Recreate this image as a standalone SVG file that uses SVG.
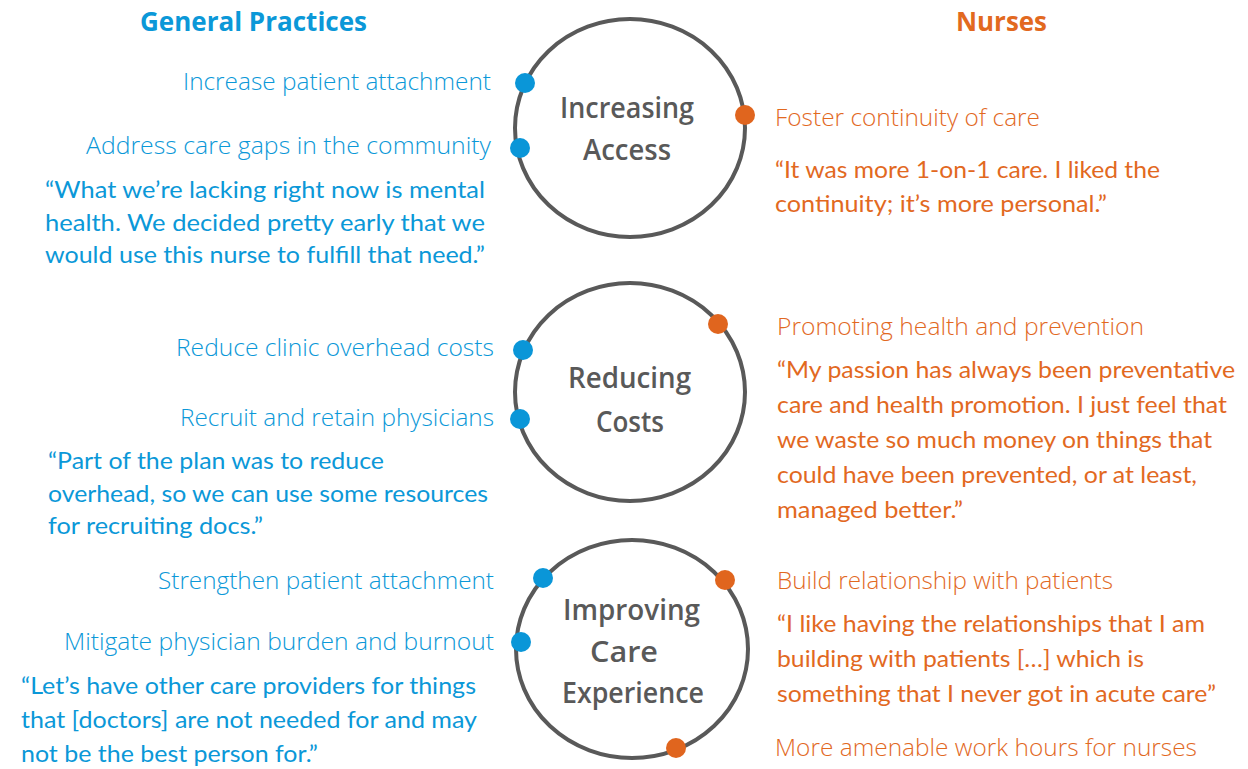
<svg xmlns="http://www.w3.org/2000/svg" width="1248" height="769" viewBox="0 0 1248 769">
  <style>
    .ring { fill: none; stroke: #595959; stroke-width: 4; }
    .dot-b { fill: #0A96D8; }
    .dot-o { fill: #E0651E; }
    .title { font-family: "Open Sans", "Noto Sans", "Liberation Sans", sans-serif; font-weight: 600; font-size: 29px; fill: #595959; text-anchor: middle; }
    .head { font-family: "Open Sans", "Noto Sans", "Liberation Sans", sans-serif; font-weight: 700; font-size: 27px; }
    .lbl { font-family: "Open Sans", "Noto Sans", "Liberation Sans", sans-serif; font-weight: 300; font-size: 24.5px; }
    .quote { font-family: Lato, "Noto Sans", "Liberation Sans", sans-serif; font-weight: 400; font-size: 24px; }
    .blue { fill: #0B98D8; }
    .orange { fill: #E2691F; }
    .end { text-anchor: end; }
  </style>

  <rect width="1248" height="769" fill="#ffffff"/>

  <!-- column headings -->
  <g id="heading-practices">
    <text class="head blue" x="140" y="31" textLength="227" lengthAdjust="spacingAndGlyphs">General Practices</text>
  </g>
  <g id="heading-nurses">
    <text class="head orange" x="956" y="31" textLength="91" lengthAdjust="spacingAndGlyphs">Nurses</text>
  </g>

  <!-- theme circles with their attachment dots -->
  <g id="connectors">
    <g id="theme-access">
      <ellipse class="ring" cx="630" cy="128" rx="115" ry="109"/>
      <text class="title" x="627" y="118" textLength="134" lengthAdjust="spacingAndGlyphs">Increasing</text>
      <text class="title" x="627" y="160" textLength="88" lengthAdjust="spacingAndGlyphs">Access</text>
      <circle class="dot-b" cx="525" cy="83" r="10"/>
      <circle class="dot-b" cx="520" cy="148" r="10"/>
      <circle class="dot-o" cx="745" cy="115" r="10"/>
    </g>
    <g id="theme-costs">
      <ellipse class="ring" cx="630" cy="392" rx="115" ry="109"/>
      <text class="title" x="629.5" y="388" textLength="123" lengthAdjust="spacingAndGlyphs">Reducing</text>
      <text class="title" x="630" y="432" textLength="68" lengthAdjust="spacingAndGlyphs">Costs</text>
      <circle class="dot-o" cx="718" cy="324" r="10"/>
      <circle class="dot-b" cx="523" cy="350" r="10"/>
      <circle class="dot-b" cx="520" cy="419" r="10"/>
    </g>
    <g id="theme-experience">
      <ellipse class="ring" cx="632" cy="649" rx="116" ry="109"/>
      <text class="title" x="631.5" y="620" textLength="137" lengthAdjust="spacingAndGlyphs">Improving</text>
      <text class="title" x="624" y="662" textLength="68" lengthAdjust="spacingAndGlyphs">Care</text>
      <text class="title" x="633" y="703" textLength="142" lengthAdjust="spacingAndGlyphs">Experience</text>
      <circle class="dot-b" cx="543" cy="578" r="10"/>
      <circle class="dot-o" cx="725" cy="580" r="10"/>
      <circle class="dot-b" cx="521" cy="642" r="10"/>
      <circle class="dot-o" cx="676" cy="748" r="10"/>
    </g>
  </g>

  <!-- general practice side -->
  <g id="gp-access">
    <text class="lbl blue end" x="491" y="90" textLength="308" lengthAdjust="spacingAndGlyphs">Increase patient attachment</text>
    <text class="lbl blue end" x="491" y="154" textLength="405" lengthAdjust="spacingAndGlyphs">Address care gaps in the community</text>
    <text class="quote blue" x="45" y="198" textLength="440" lengthAdjust="spacingAndGlyphs">“What we’re lacking right now is mental</text>
    <text class="quote blue" x="45" y="230.5" textLength="440" lengthAdjust="spacingAndGlyphs">health. We decided pretty early that we</text>
    <text class="quote blue" x="45" y="263" textLength="440" lengthAdjust="spacingAndGlyphs">would use this nurse to fulfill that need.”</text>
  </g>
  <g id="gp-costs">
    <text class="lbl blue end" x="494" y="356" textLength="318" lengthAdjust="spacingAndGlyphs">Reduce clinic overhead costs</text>
    <text class="lbl blue end" x="494" y="426" textLength="314" lengthAdjust="spacingAndGlyphs">Recruit and retain physicians</text>
    <text class="quote blue" x="48" y="469" textLength="336" lengthAdjust="spacingAndGlyphs">“Part of the plan was to reduce</text>
    <text class="quote blue" x="48" y="502" textLength="440" lengthAdjust="spacingAndGlyphs">overhead, so we can use some resources</text>
    <text class="quote blue" x="48" y="534" textLength="215" lengthAdjust="spacingAndGlyphs">for recruiting docs.”</text>
  </g>
  <g id="gp-experience">
    <text class="lbl blue end" x="494" y="589" textLength="336" lengthAdjust="spacingAndGlyphs">Strengthen patient attachment</text>
    <text class="lbl blue end" x="494" y="650" textLength="430" lengthAdjust="spacingAndGlyphs">Mitigate physician burden and burnout</text>
    <text class="quote blue" x="21" y="694" textLength="455" lengthAdjust="spacingAndGlyphs">“Let’s have other care providers for things</text>
    <text class="quote blue" x="21" y="728" textLength="456" lengthAdjust="spacingAndGlyphs">that [doctors] are not needed for and may</text>
    <text class="quote blue" x="21" y="762" textLength="297" lengthAdjust="spacingAndGlyphs">not be the best person for.”</text>
  </g>

  <!-- nurse side -->
  <g id="nurse-access">
    <text class="lbl orange" x="775" y="126" textLength="265" lengthAdjust="spacingAndGlyphs">Foster continuity of care</text>
    <text class="quote orange" x="775" y="178" textLength="385" lengthAdjust="spacingAndGlyphs">“It was more 1-on-1 care. I liked the</text>
    <text class="quote orange" x="775" y="212" textLength="332" lengthAdjust="spacingAndGlyphs">continuity; it’s more personal.”</text>
  </g>
  <g id="nurse-costs">
    <text class="lbl orange" x="777" y="335" textLength="367" lengthAdjust="spacingAndGlyphs">Promoting health and prevention</text>
    <text class="quote orange" x="777" y="378" textLength="458" lengthAdjust="spacingAndGlyphs">“My passion has always been preventative</text>
    <text class="quote orange" x="777" y="413" textLength="450" lengthAdjust="spacingAndGlyphs">care and health promotion. I just feel that</text>
    <text class="quote orange" x="777" y="448" textLength="435" lengthAdjust="spacingAndGlyphs">we waste so much money on things that</text>
    <text class="quote orange" x="777" y="483" textLength="420" lengthAdjust="spacingAndGlyphs">could have been prevented, or at least,</text>
    <text class="quote orange" x="777" y="518" textLength="186" lengthAdjust="spacingAndGlyphs">managed better.”</text>
  </g>
  <g id="nurse-experience">
    <text class="lbl orange" x="777" y="589" textLength="336" lengthAdjust="spacingAndGlyphs">Build relationship with patients</text>
    <text class="quote orange" x="777" y="632" textLength="428" lengthAdjust="spacingAndGlyphs">“I like having the relationships that I am</text>
    <text class="quote orange" x="777" y="667" textLength="367" lengthAdjust="spacingAndGlyphs">building with patients […] which is</text>
    <text class="quote orange" x="777" y="702" textLength="439" lengthAdjust="spacingAndGlyphs">something that I never got in acute care”</text>
    <text class="lbl orange" x="775" y="756" textLength="422" lengthAdjust="spacingAndGlyphs">More amenable work hours for nurses</text>
  </g>
</svg>
